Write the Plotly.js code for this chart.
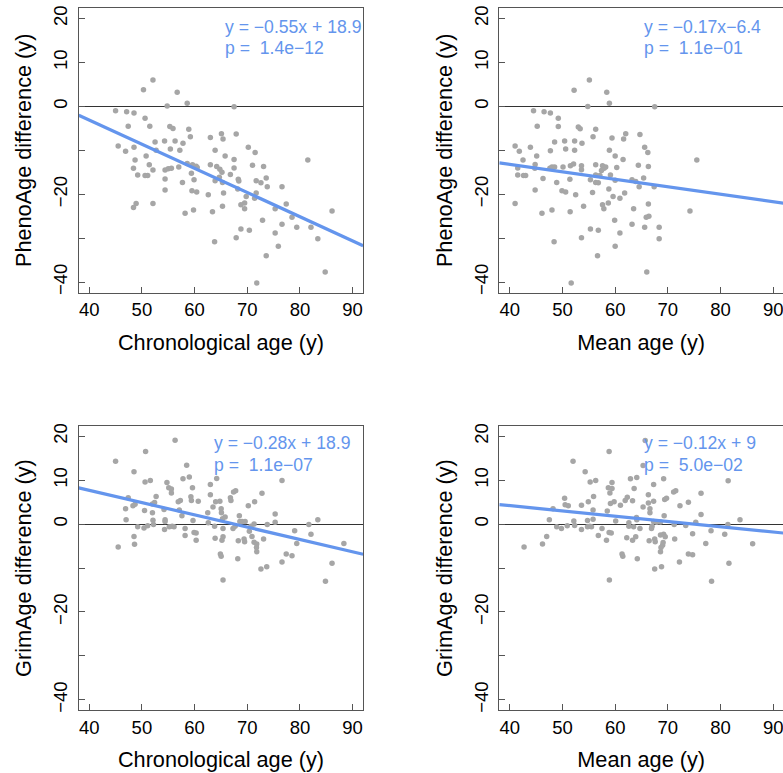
<!DOCTYPE html>
<html>
<head>
<meta charset="utf-8">
<script src="https://cdn.plot.ly/plotly-3.0.1.min.js"></script>
<style>html,body{margin:0;padding:0;overflow:hidden;background:#fff}#chart{width:783px;height:773px}</style>
</head>
<body>
<div id="chart"></div>
<script>
// Panel 1: PhenoAge difference vs chronological age
const phenoChronoX = [52.1,50.3,56.7,54.8,58.6,67.5,45.0,47.1,48.5,50.6,47.4,51.5,55.3,55.9,58.9,59.2,65.1,65.4,67.9,63.0,52.5,54.3,56.3,57.8,45.5,46.9,48.5,52.7,55.4,57.2,63.9,70.2,71.5,50.8,48.7,51.4,65.8,67.5,81.5,48.4,52.1,49.2,50.6,51.1,54.4,55.0,55.6,54.4,57.0,58.6,59.6,60.3,60.5,59.4,63.0,64.2,64.8,65.2,67.5,66.8,71.0,73.1,73.6,68.3,71.7,64.7,59.9,57.7,63.9,65.3,68.4,72.6,73.8,76.6,54.4,59.5,60.4,62.6,65.5,68.2,69.8,69.5,71.7,71.4,48.9,48.4,52.1,58.2,59.8,63.4,65.3,68.8,69.5,75.3,77.4,78.5,79.4,82.1,86.1,72.9,76.6,68.8,70.4,67.9,75.3,83.4,63.8,75.9,73.6,84.8,71.8];
const phenoChronoY = [6.0,3.8,3.2,0.1,0.7,-0.1,-1.0,-1.2,-1.5,-2.7,-4.5,-4.5,-4.6,-5.0,-5.2,-6.9,-6.2,-7.4,-6.3,-7.1,-8.1,-7.9,-7.9,-8.4,-9.0,-10.2,-9.3,-10.0,-9.7,-10.0,-10.0,-9.3,-10.5,-11.3,-12.2,-13.3,-11.3,-12.1,-12.2,-14.1,-14.5,-15.6,-15.7,-15.7,-14.5,-14.2,-14.1,-16.5,-13.8,-13.0,-13.3,-13.6,-13.9,-15.2,-13.3,-13.7,-14.3,-15.0,-14.0,-15.5,-13.4,-13.7,-16.3,-16.6,-16.9,-16.1,-16.7,-17.3,-16.9,-17.3,-17.0,-17.4,-18.3,-18.3,-19.0,-19.2,-19.5,-20.1,-19.7,-18.8,-20.5,-22.0,-19.7,-20.9,-22.1,-23.0,-22.1,-24.3,-23.6,-24.0,-22.7,-22.4,-23.3,-23.3,-22.2,-25.2,-27.5,-27.5,-23.8,-25.9,-26.8,-27.9,-28.2,-29.9,-28.8,-30.1,-30.8,-31.8,-34.0,-37.7,-40.2];

// Panel 2: PhenoAge difference vs mean age
const phenoMeanX = [55.1,52.2,58.4,54.8,58.9,67.5,44.5,46.5,47.7,49.2,45.2,49.2,53.0,53.35,56.3,55.8,62.0,61.6,64.7,59.4,48.5,50.4,52.3,53.7,41.0,41.8,43.9,47.7,50.6,52.3,58.9,65.6,66.2,45.1,42.5,44.8,44.75,60.0,61.5,75.5,41.5,41.5,42.6,43.0,46.3,47.6,48.0,48.5,50.1,51.5,52.1,51.4,53.6,53.6,56.3,57.6,57.9,58.2,57.4,60.3,56.3,57.1,59.1,64.4,66.3,65.4,63.2,55.3,48.9,56.3,56.8,60.0,63.9,64.55,67.4,44.8,49.9,50.6,52.5,55.7,58.8,59.6,60.9,61.8,41.0,46.1,48.0,51.45,54.0,57.6,57.85,58.7,63.5,66.3,74.2,65.9,66.4,68.35,65.6,63.2,59.9,55.3,56.8,60.9,53.6,68.35,48.4,60.0,56.65,66.0,51.65];
const phenoMeanY = [6.0,3.7,3.2,0.0,0.7,-0.1,-1.0,-1.2,-1.5,-2.7,-4.5,-4.6,-4.7,-5.1,-5.2,-6.9,-6.2,-7.4,-6.4,-7.2,-8.1,-7.9,-7.9,-8.4,-9.0,-10.2,-9.3,-10.1,-9.7,-10.0,-10.0,-9.3,-10.5,-11.3,-12.2,-13.2,-14.1,-11.3,-12.1,-12.2,-14.0,-15.6,-15.7,-15.7,-16.4,-14.1,-13.8,-13.8,-13.8,-13.5,-13.1,-16.6,-13.5,-14.4,-13.3,-13.5,-14.1,-13.8,-14.6,-13.9,-15.6,-15.7,-15.6,-13.4,-13.7,-16.3,-16.7,-16.7,-17.3,-17.3,-17.4,-16.8,-17.1,-18.3,-18.3,-19.0,-19.2,-19.5,-20.1,-19.6,-18.8,-20.5,-20.9,-19.7,-22.1,-24.3,-23.6,-24.0,-22.7,-22.4,-23.3,-22.0,-23.3,-22.2,-23.8,-25.2,-25.0,-27.5,-27.5,-26.8,-25.9,-27.9,-28.2,-28.8,-29.9,-30.1,-30.8,-31.8,-34.0,-37.7,-40.2];

// Panel 3: GrimAge difference vs chronological age
const grimChronoX = [56.3,50.7,45.0,58.5,48.5,50.6,51.6,57.8,59.0,64.2,54.75,55.1,55.6,55.6,59.6,63.0,63.0,67.4,67.8,72.8,76.6,47.4,52.7,59.3,59.4,60.7,56.9,57.3,52.4,52.0,48.3,48.7,46.9,50.5,54.2,57.1,63.5,64.0,64.8,66.8,66.9,65.05,65.1,70.2,71.4,52.0,57.6,62.5,47.0,52.1,54.4,54.4,59.7,62.6,65.3,65.8,68.5,68.6,69.0,69.6,71.3,73.8,75.3,75.3,81.7,83.4,49.2,50.4,51.1,52.2,54.3,55.2,55.75,56.1,58.2,59.9,60.3,63.8,65.4,67.3,67.7,70.7,70.4,48.5,48.6,45.5,58.2,60.3,63.9,65.4,65.2,68.3,69.4,69.5,70.9,71.3,71.8,71.75,71.8,73.1,79.0,79.4,82.1,88.35,64.9,65.05,68.2,77.4,78.5,76.6,72.6,73.7,86.1,65.4,84.85];
const grimChronoY = [19.1,16.5,14.3,13.4,11.9,9.6,9.9,10.3,10.7,10.4,9.5,8.3,8.0,7.1,8.3,9.0,6.7,7.3,7.6,7.0,9.9,6.0,6.3,6.2,5.4,5.2,5.1,5.4,4.9,4.6,4.2,4.5,3.5,3.1,3.3,3.2,3.9,5.1,5.2,6.0,5.4,3.5,2.6,4.2,5.1,2.6,1.9,2.6,1.0,0.9,1.0,0.6,0.8,0.3,1.2,1.6,1.9,0.6,0.6,0.6,0.0,-0.1,2.3,0.4,-0.1,1.0,-0.6,-0.9,-0.4,-0.1,-1.2,-0.6,-0.5,-0.6,-1.0,-1.9,-2.0,-0.5,-1.0,-1.0,-0.5,-0.5,-1.6,-2.8,-4.6,-5.2,-2.6,-3.7,-3.2,-2.9,-3.7,-3.8,-3.4,-4.0,-2.8,-4.1,-4.5,-5.3,-6.3,-3.4,-1.5,-4.4,-2.3,-4.4,-6.8,-7.3,-7.9,-6.8,-7.2,-8.6,-10.2,-9.7,-8.9,-12.7,-13.0];

// Panel 4: GrimAge difference vs mean age
const grimMeanX = [65.7,58.85,52.0,65.3,54.3,55.25,56.3,62.9,64.1,69.2,59.4,58.7,59.4,59.0,63.6,67.3,66.3,71.1,71.5,76.3,81.45,50.4,55.9,62.3,61.9,63.3,59.8,59.1,54.9,55.8,53.6,50.5,51.1,48.2,61.0,58.5,65.3,66.3,67.3,69.4,69.75,66.6,66.6,72.3,73.9,76.3,47.5,52.15,55.8,54.75,60.1,62.6,64.1,64.05,69.3,67.3,67.9,68.6,71.2,73.4,75.3,81.4,83.7,48.9,49.8,50.9,52.3,53.6,54.75,55.2,55.5,57.5,58.85,59.25,62.6,63.5,64.7,66.9,67.0,69.2,69.5,71.3,74.7,78.2,80.8,47.0,46.2,42.7,56.8,58.35,62.2,63.9,63.3,66.45,67.5,67.6,68.6,69.1,69.0,68.7,68.6,77.2,86.1,61.3,61.45,64.2,73.9,74.7,72.2,67.5,68.8,81.6,58.9,78.3];
const grimMeanY = [19.05,16.5,14.3,13.35,11.9,9.6,9.9,10.3,10.6,10.3,9.5,8.3,8.1,7.1,8.1,9.0,6.7,7.3,7.6,7.0,9.85,5.9,6.3,6.1,5.4,5.3,5.1,4.7,5.1,3.2,4.3,4.4,4.2,3.5,4.3,3.0,3.9,4.8,5.2,5.6,5.9,3.5,2.6,4.2,5.0,2.2,1.0,0.7,1.1,0.8,0.7,0.3,1.0,1.5,1.9,0.6,0.4,0.5,-0.1,-0.3,0.4,-0.1,1.0,-0.6,-1.0,-0.4,-0.3,-1.2,-0.6,-0.5,-0.6,-1.0,-1.9,-2.0,-0.5,-0.6,-1.0,-1.0,-0.5,-2.3,-2.9,-3.4,-2.2,-1.5,-2.3,-2.8,-4.5,-5.2,-2.6,-3.7,-3.1,-2.9,-3.7,-3.8,-3.4,-4.0,-2.5,-4.2,-4.8,-5.3,-6.3,-4.4,-4.45,-6.8,-7.3,-7.9,-6.8,-7.0,-8.6,-10.2,-9.7,-8.9,-12.7,-13.0];

// Fitted lines (from the printed equations) and p values
const fitSlopes = [-0.55, -0.17, -0.28, -0.12];
const fitIntercepts = [18.9, -6.4, 18.9, 9];
const eqLabels = ['y = \u22120.55x + 18.9', 'y = \u22120.17x\u22126.4', 'y = \u22120.28x + 18.9', 'y = \u22120.12x + 9'];
const pLabels = ['p = \u00a01.4e\u221212', 'p = \u00a01.1e\u221201', 'p = \u00a01.1e\u221207', 'p = \u00a05.0e\u221202'];

// Axis labels and ticks
const xTitles = ['Chronological age (y)', 'Mean age (y)', 'Chronological age (y)', 'Mean age (y)'];
const yTitles = ['PhenoAge difference (y)', 'PhenoAge difference (y)', 'GrimAge difference (y)', 'GrimAge difference (y)'];
const xTickVals = [40, 50, 60, 70, 80, 90];
const yTickVals = [-40, -30, -20, -10, 0, 10, 20];
const yTickText = ['\u221240', '', '\u221220', '', '0', '10', '20'];

const W = 783, H = 773;
const PXU = 5.267;           // px per x unit
const FONT = 'Liberation Sans, Arial, Helvetica, sans-serif';
const BLUE = '#6495ED';
const POINT = '#A6A6A6';

// panel boxes in pixels: [left, right, top, bottom]
const boxes = [[78.7, 363.3, 8, 292.7], [499.3, 783, 8, 292.7], [78.7, 363.3, 425.7, 710.4], [499.3, 783, 425.7, 710.4]];
const xs = [phenoChronoX, phenoMeanX, grimChronoX, grimMeanX];
const ys = [phenoChronoY, phenoMeanY, grimChronoY, grimMeanY];

const traces = [];
const layout = {
  width: W, height: H,
  margin: {l: 0, r: 0, t: 0, b: 0, pad: 0},
  paper_bgcolor: '#fff', plot_bgcolor: '#fff',
  showlegend: false,
  font: {family: FONT, color: '#000', size: 18},
  annotations: []
};

const eqPos = [[222.7, 26.7, 48.3], [642.3, 26.7, 48.3], [212, 443.3, 465], [642.3, 443.3, 465]];

for (let i = 0; i < 4; i++) {
  const b = boxes[i];
  const xa = i === 0 ? 'x' : 'x' + (i + 1);
  const ya = i === 0 ? 'y' : 'y' + (i + 1);
  const xr = [38, 38 + (b[1] - b[0]) / PXU];
  traces.push({
    type: 'scatter', mode: 'markers', x: xs[i], y: ys[i], xaxis: xa, yaxis: ya,
    marker: {size: 5.5, color: POINT}, hoverinfo: 'skip', cliponaxis: true
  });
  const lx = [38, 92];
  traces.push({
    type: 'scatter', mode: 'lines', x: lx, y: lx.map(v => fitSlopes[i] * v + fitIntercepts[i]),
    xaxis: xa, yaxis: ya, line: {color: BLUE, width: 3.2}, hoverinfo: 'skip'
  });
  const common = {
    showline: true, mirror: true, linecolor: '#555', linewidth: 1,
    ticks: 'inside', ticklen: 6, tickwidth: 1, tickcolor: '#555',
    showgrid: false, tickfont: {family: FONT, size: 18.5, color: '#000'},
    ticklabeloverflow: 'allow'
  };
  layout['xaxis' + (i === 0 ? '' : i + 1)] = Object.assign({}, common, {
    anchor: ya, domain: [b[0] / W, Math.min(1, b[1] / W)], range: xr,
    tickmode: 'array', tickvals: xTickVals, zeroline: false,
    title: {text: xTitles[i], font: {family: FONT, size: 21.7, color: '#000'}, standoff: 15}
  });
  layout['yaxis' + (i === 0 ? '' : i + 1)] = Object.assign({}, common, {
    anchor: xa, domain: [1 - b[3] / H, 1 - b[2] / H], range: [-42.4, 22.4],
    tickmode: 'array', tickvals: yTickVals, ticktext: yTickText, tickangle: -90,
    ticklabelstandoff: 3,
    zeroline: true, zerolinecolor: '#333', zerolinewidth: 1,
    title: {text: yTitles[i], font: {family: FONT, size: 21.7, color: '#000'}, standoff: 12}
  });
  const e = eqPos[i];
  layout.annotations.push({
    xref: 'paper', yref: 'paper', x: e[0] / W, y: 1 - e[1] / H, xanchor: 'left', yanchor: 'middle',
    text: eqLabels[i], showarrow: false, font: {family: FONT, size: 17.6, color: BLUE}
  });
  layout.annotations.push({
    xref: 'paper', yref: 'paper', x: e[0] / W, y: 1 - e[2] / H, xanchor: 'left', yanchor: 'middle',
    text: pLabels[i], showarrow: false, font: {family: FONT, size: 17.6, color: BLUE}
  });
}

Plotly.newPlot('chart', traces, layout, {staticPlot: true, displayModeBar: false});
</script>
</body>
</html>
